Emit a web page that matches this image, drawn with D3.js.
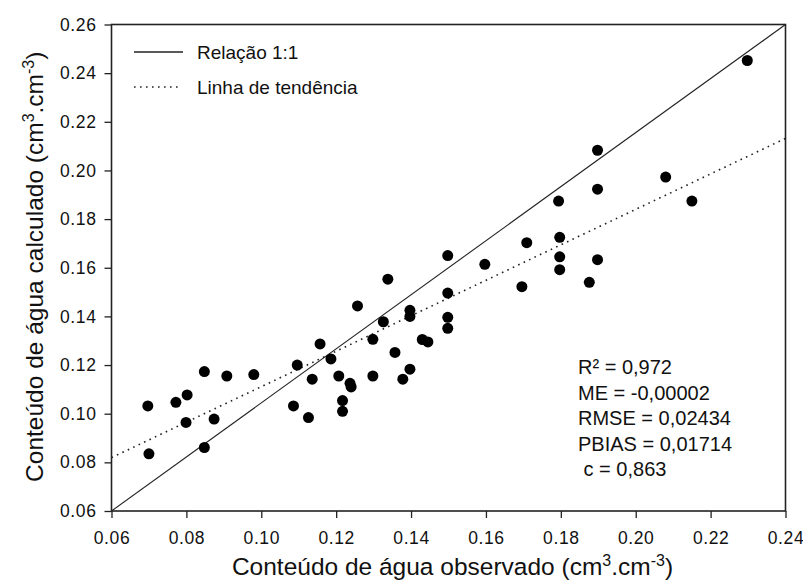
<!DOCTYPE html>
<html>
<head>
<meta charset="utf-8">
<script src="https://cdn.jsdelivr.net/npm/d3@7"></script>
<style>
  body { margin: 0; background: #fff; }
  svg { font-family: "Liberation Sans", Arial, sans-serif; }
</style>
</head>
<body>
<svg id="chart" width="803" height="580"></svg>
<script>
const observed = [
  0.0697, 0.0700, 0.0772, 0.0802, 0.0799, 0.0848, 0.0848, 0.0874, 0.0908, 0.0980,
  0.1086, 0.1096, 0.1126, 0.1136, 0.1157, 0.1186, 0.1207, 0.1217, 0.1217, 0.1237,
  0.1240, 0.1257, 0.1298, 0.1298, 0.1326, 0.1338, 0.1357, 0.1378, 0.1397, 0.1397,
  0.1397, 0.1430, 0.1445, 0.1498, 0.1498, 0.1498, 0.1498, 0.1597, 0.1696, 0.1709,
  0.1794, 0.1797, 0.1797, 0.1797, 0.1876, 0.1898, 0.1898, 0.1898, 0.2080, 0.2150,
  0.2298
];
const calculated = [
  0.1032, 0.0835, 0.1047, 0.1077, 0.0964, 0.1173, 0.0861, 0.0978, 0.1155, 0.1161,
  0.1032, 0.1200, 0.0984, 0.1142, 0.1287, 0.1225, 0.1155, 0.1054, 0.1010, 0.1125,
  0.1110, 0.1443, 0.1306, 0.1155, 0.1378, 0.1553, 0.1252, 0.1142, 0.1425, 0.1400,
  0.1183, 0.1305, 0.1295, 0.1650, 0.1496, 0.1396, 0.1351, 0.1614, 0.1522, 0.1703,
  0.1874, 0.1725, 0.1645, 0.1592, 0.1540, 0.2083, 0.1923, 0.1633, 0.1973, 0.1874,
  0.2452
];

// Trend line as drawn in the picture (calculated = intercept + slope * observed).
const trendSlope = 0.729;
const trendIntercept = 0.0382;

const xTicks = [0.06, 0.08, 0.10, 0.12, 0.14, 0.16, 0.18, 0.20, 0.22, 0.24];
const yTicks = [0.06, 0.08, 0.10, 0.12, 0.14, 0.16, 0.18, 0.20, 0.22, 0.24, 0.26];
const legendLabels = ["Relação 1:1", "Linha de tendência"];
const statsLines = ["R² = 0,972", "ME = -0,00002", "RMSE = 0,02434", "PBIAS = 0,01714", " c = 0,863"];

const margin = { top: 24.5, right: 17.5, bottom: 69, left: 111.5 };
const W = 803, H = 580;
const w = W - margin.left - margin.right,
  h = H - margin.top - margin.bottom;

const svg = d3.select("#chart");
const g = svg.append("g").attr("transform", `translate(${margin.left},${margin.top})`);

const x = d3.scaleLinear().domain([0.06, 0.24]).range([0, w]);
const y = d3.scaleLinear().domain([0.06, 0.26]).range([h, 0]);

const points = observed.map((d, i) => ({ x: d, y: calculated[i] }));

const line = d3.line().x((d) => x(d[0])).y((d) => y(d[1]));

// Reference line drawn corner to corner, like the original.
g.append("path")
  .attr("d", line([[x.domain()[0], y.domain()[0]], [x.domain()[1], y.domain()[1]]]))
  .attr("fill", "none")
  .attr("stroke", "#222")
  .attr("stroke-width", 1.1);

g.append("path")
  .attr("d", line(x.domain().map((v) => [v, trendIntercept + trendSlope * v])))
  .attr("fill", "none")
  .attr("stroke", "#222")
  .attr("stroke-width", 1.6)
  .attr("stroke-dasharray", "1.6,4.4");

g.selectAll("circle.pt")
  .data(points)
  .enter()
  .append("circle")
  .attr("class", "pt")
  .attr("cx", (d) => x(d.x))
  .attr("cy", (d) => y(d.y))
  .attr("r", 5.5)
  .attr("fill", "#000");

// Axes.
const xAxis = g.append("g")
  .attr("transform", `translate(0,${h})`)
  .call(d3.axisBottom(x).tickValues(xTicks).tickFormat(d3.format(".2f")).tickSize(7).tickPadding(14));
const yAxis = g.append("g")
  .call(d3.axisLeft(y).tickValues(yTicks).tickFormat(d3.format(".2f")).tickSize(7).tickPadding(8));

[xAxis, yAxis].forEach((a) => {
  a.select(".domain").remove();
  a.selectAll("line").attr("stroke", "#222").attr("stroke-width", 1.3);
  a.selectAll("text").attr("font-size", 17.5).attr("fill", "#111")
    .attr("letter-spacing", 0.6)
    .attr("font-family", '"Liberation Sans", Arial, sans-serif');
});

// Box.
g.append("rect")
  .attr("width", w)
  .attr("height", h)
  .attr("fill", "none")
  .attr("stroke", "#222")
  .attr("stroke-width", 1.6);

// Axis titles.
function title(sel, text) {
  sel.append("tspan").text(text);
  sel.append("tspan").attr("dy", -9).attr("font-size", 16).text("3");
  sel.append("tspan").attr("dy", 9).text(".cm");
  sel.append("tspan").attr("dy", -9).attr("font-size", 16).text("-3");
  sel.append("tspan").attr("dy", 9).text(")");
}

title(svg.append("text")
  .attr("x", margin.left + w / 2 + 4)
  .attr("y", 575)
  .attr("text-anchor", "middle")
  .attr("font-size", 24.5)
  .attr("fill", "#111"), "Conteúdo de água observado (cm");

title(svg.append("text")
  .attr("transform", `translate(43,${margin.top + h / 2 - 1}) rotate(-90)`)
  .attr("text-anchor", "middle")
  .attr("font-size", 24.5)
  .attr("fill", "#111"), "Conteúdo de água calculado (cm");

// Legend.
const legend = svg.append("g");
const legendY = [52, 87];
legendLabels.forEach((label, i) => {
  legend.append("line")
    .attr("x1", 134).attr("x2", i === 0 ? 183 : 179)
    .attr("y1", legendY[i]).attr("y2", legendY[i])
    .attr("stroke", "#222")
    .attr("stroke-width", i === 0 ? 1.5 : 1.6)
    .attr("stroke-dasharray", i === 0 ? null : "1.6,4.4");
  legend.append("text")
    .attr("x", 197)
    .attr("y", legendY[i] + 7)
    .attr("font-size", 19)
    .attr("fill", "#111")
    .text(label);
});

// Statistics.
statsLines.forEach((s, i) => {
  svg.append("text")
    .attr("x", 578)
    .attr("y", 374 + i * 25.5)
    .attr("font-size", 20)
    .attr("fill", "#111")
    .style("white-space", "pre")
    .text(s);
});
</script>
</body>
</html>
